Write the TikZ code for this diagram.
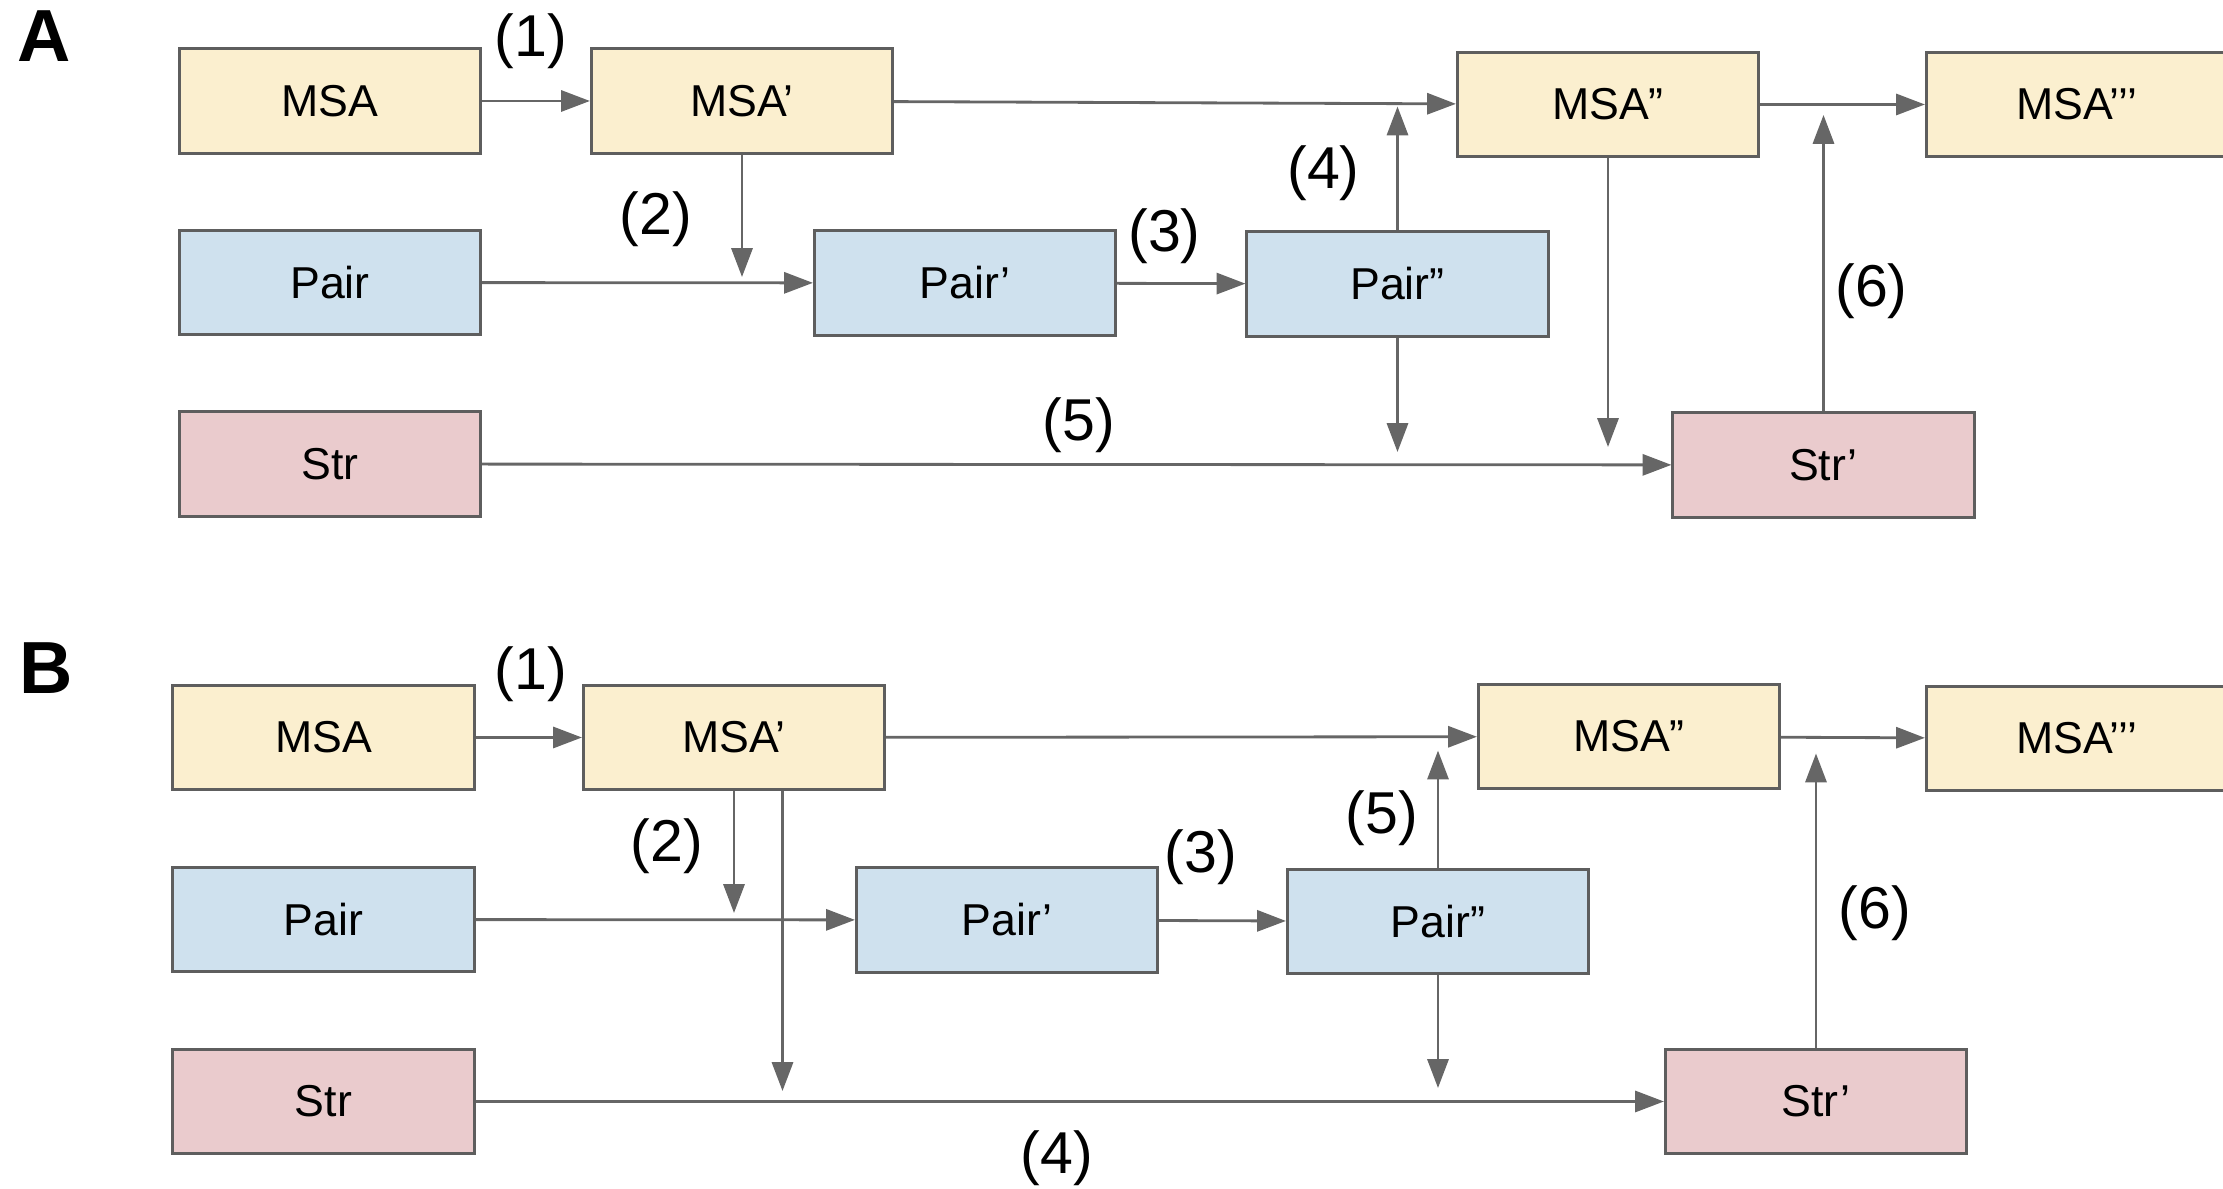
\documentclass[tikz,border=0pt]{standalone}
\usepackage{fontspec}
\setmainfont{Liberation Sans}
\usetikzlibrary{arrows.meta}
\definecolor{msafill}{HTML}{FBEFCF}
\definecolor{pairfill}{HTML}{CFE1EE}
\definecolor{strfill}{HTML}{EACBCD}
\definecolor{boxline}{HTML}{5E5E5E}
\definecolor{arrline}{HTML}{666666}
\tikzset{
  box/.style={draw=boxline, line width=0.85pt, minimum width=3.01cm, minimum height=1.04cm,
              inner sep=0pt, font=\fontsize{12.7}{15}\selectfont},
  msabox/.style={box, fill=msafill},
  pairbox/.style={box, fill=pairfill},
  strbox/.style={box, fill=strfill},
  arr/.style={draw=arrline, line width=0.8pt, -{Triangle[length=8.2pt, width=6pt]}},
  steplabel/.style={font=\fontsize{16.8}{20}\selectfont, inner sep=0pt},
  panel/.style={font=\fontsize{21}{24}\selectfont\bfseries, inner sep=0pt}
}
\begin{document}
\begin{tikzpicture}[x=0.01cm, y=-0.01cm]
\useasboundingbox (0,0) rectangle (2223,1189);

% ---------- Panel A ----------
\node[panel] (labA) at (44.5,36.5) {A};

\node[msabox]  (mA)  at (330,101)    {MSA};
\node[msabox]  (mA1) at (742,101)    {MSA’};
\node[msabox]  (mA2) at (1608,104.5) {MSA”};
\node[msabox]  (mA3) at (2077,104.5) {MSA’’’};
\node[pairbox] (pA)  at (330,282.5)  {Pair};
\node[pairbox] (pA1) at (965,283)    {Pair’};
\node[pairbox] (pA2) at (1397.5,284) {Pair”};
\node[strbox]  (sA)  at (330,464)    {Str};
\node[strbox]  (sA2) at (1823.5,465) {Str’};

\coordinate (tA1) at (742,277);
\coordinate (tA2) at (1397.5,106.5);
\coordinate (tA3) at (1397.5,452);
\coordinate (tA4) at (1608,447);
\coordinate (tA5) at (1823.5,115);

\draw[arr] (mA) -- (mA1);
\draw[arr] (mA1) -- (mA2);
\draw[arr] (mA2) -- (mA3);
\draw[arr] (mA1.south) -- (tA1);
\draw[arr] (pA) -- (pA1);
\draw[arr] (pA1) -- (pA2);
\draw[arr] (pA2.north) -- (tA2);
\draw[arr] (pA2.south) -- (tA3);
\draw[arr] (mA2.south) -- (tA4);
\draw[arr] (sA) -- (sA2);
\draw[arr] (sA2.north) -- (tA5);

\node[steplabel] (lA1) at (531,41.5)   {(1)};
\node[steplabel] (lA2) at (656,219)    {(2)};
\node[steplabel] (lA3) at (1164.5,236) {(3)};
\node[steplabel] (lA4) at (1323.5,173) {(4)};
\node[steplabel] (lA5) at (1079,425)   {(5)};
\node[steplabel] (lA6) at (1871.5,291) {(6)};

% ---------- Panel B ----------
\node[panel] (labB) at (46,668) {B};

\node[msabox]  (mB)  at (323.5,737.5) {MSA};
\node[msabox]  (mB1) at (734,737.5)   {MSA’};
\node[msabox]  (mB2) at (1629,736.6)  {MSA”};
\node[msabox]  (mB3) at (2077,738.5)  {MSA’’’};
\node[pairbox] (pB)  at (323.5,919.5) {Pair};
\node[pairbox] (pB1) at (1007,920)    {Pair’};
\node[pairbox] (pB2) at (1438,921.5)  {Pair”};
\node[strbox]  (sB)  at (323.5,1101.5){Str};
\node[strbox]  (sB2) at (1816,1101.5) {Str’};

\coordinate (tB1) at (734,913);
\coordinate (tB2) at (782.5,1091);
\coordinate (tB3) at (1438,750.6);
\coordinate (tB4) at (1438,1088);
\coordinate (tB5) at (1816,753.5);

\draw[arr] (mB) -- (mB1);
\draw[arr] (mB1) -- (mB2);
\draw[arr] (mB2) -- (mB3);
\draw[arr] (mB1.south) -- (tB1);
\draw[arr] (mB1.south -| tB2) -- (tB2);
\draw[arr] (pB) -- (pB1);
\draw[arr] (pB1) -- (pB2);
\draw[arr] (pB2.north) -- (tB3);
\draw[arr] (pB2.south) -- (tB4);
\draw[arr] (sB) -- (sB2);
\draw[arr] (sB2.north) -- (tB5);

\node[steplabel] (lB1) at (531,674.5)   {(1)};
\node[steplabel] (lB2) at (667,846)     {(2)};
\node[steplabel] (lB3) at (1201,857.5)  {(3)};
\node[steplabel] (lB4) at (1056.6,1158) {(4)};
\node[steplabel] (lB5) at (1382,818)    {(5)};
\node[steplabel] (lB6) at (1875,913)    {(6)};
\end{tikzpicture}
\end{document}
